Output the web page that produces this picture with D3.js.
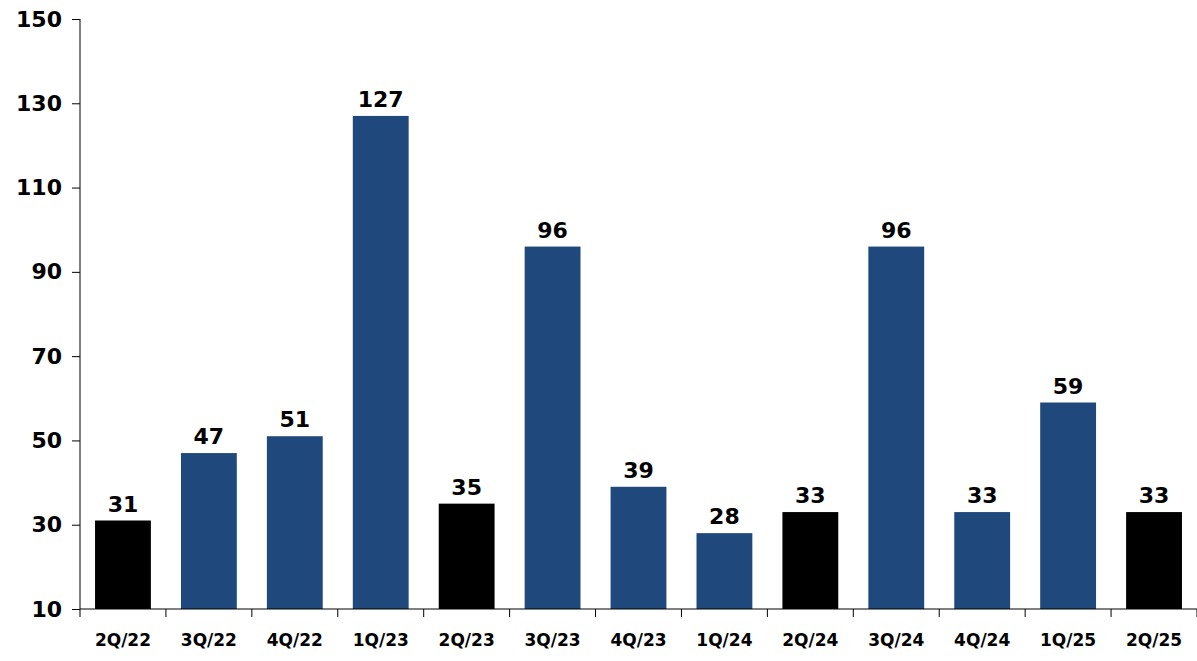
<!DOCTYPE html>
<html><head><meta charset="utf-8">
<script src="https://cdn.jsdelivr.net/npm/d3@7"></script>
<style>body{margin:0;background:#fff}svg{display:block}text{font-family:"DejaVu Sans",sans-serif;font-weight:bold}</style>
</head><body><svg id="c" width="1197" height="661"></svg>
<script>
const categories=["2Q/22","3Q/22","4Q/22","1Q/23","2Q/23","3Q/23","4Q/23","1Q/24","2Q/24","3Q/24","4Q/24","1Q/25","2Q/25"];
const values=[31,47,51,127,35,96,39,28,33,96,33,59,33];
const highlight=[true,false,false,false,true,false,false,false,true,false,false,false,true];
const yTicks=[10,30,50,70,90,110,130,150];
const svg=d3.select("#c");
const L=80,R=1197,T=19,B=609;
const x=d3.scaleBand().domain(categories).range([L,R]).paddingInner(0.35).paddingOuter(0.175);
const y=d3.scaleLinear().domain([10,150]).range([B,T]);
svg.selectAll("rect.bar").data(values).join("rect")
 .attr("x",(d,i)=>x(categories[i])).attr("width",x.bandwidth())
 .attr("y",d=>y(d)).attr("height",d=>B-y(d))
 .attr("fill",(d,i)=>highlight[i]?"#000":"#1F497D");
svg.selectAll("text.val").data(values).join("text")
 .attr("x",(d,i)=>x(categories[i])+x.bandwidth()/2).attr("y",d=>y(d)-9)
 .attr("text-anchor","middle").attr("font-size",22).attr("fill","#000").text(d=>d);
const ya=svg.append("g").attr("transform",`translate(${L},0)`)
 .call(d3.axisLeft(y).tickValues(yTicks).tickSize(8).tickPadding(10));
ya.selectAll("text").attr("font-size",22).attr("fill","#000");
ya.select(".domain").attr("d",`M0,${T}V${B}`).attr("stroke","#000");
ya.selectAll("line").attr("stroke","#000");
const xa=svg.append("g").attr("transform",`translate(0,${B})`);
xa.append("line").attr("x1",L).attr("x2",R).attr("stroke","#000");
const step=x.step();
const bounds=d3.range(categories.length+1).map(i=>L+i*(R-L)/categories.length);
xa.selectAll("line.t").data(bounds).join("line").attr("class","t")
 .attr("x1",d=>d).attr("x2",d=>d).attr("y1",0).attr("y2",8).attr("stroke","#000");
xa.selectAll("text").data(categories).join("text")
 .attr("x",d=>x(d)+x.bandwidth()/2).attr("y",37).attr("text-anchor","middle")
 .attr("font-size",17).attr("fill","#000").text(d=>d);
</script></body></html>
